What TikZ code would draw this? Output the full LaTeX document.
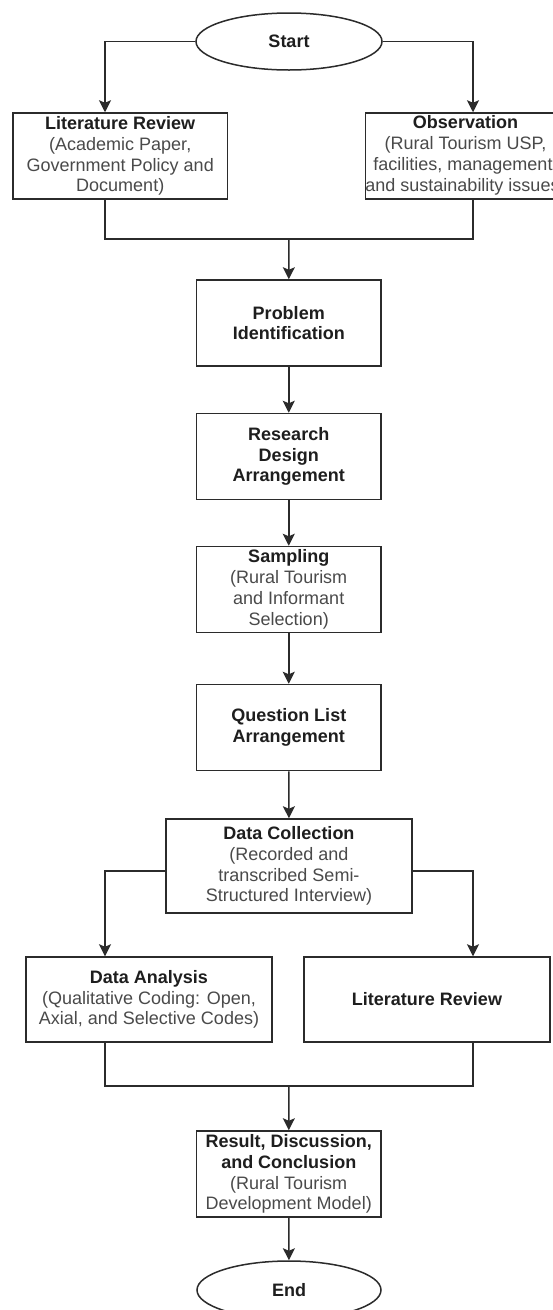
\documentclass[tikz,border=0pt]{standalone}
\usepackage{fontspec}
\setmainfont{Liberation Sans}
\usetikzlibrary{arrows.meta,shapes.geometric,calc}
\definecolor{linec}{HTML}{2B2B2B}
\definecolor{titlec}{HTML}{1E1E1E}
\definecolor{subc}{HTML}{4A4A4A}
\newcommand\hd[1]{{\color{titlec}\bfseries #1}}
\begin{document}
\begin{tikzpicture}[x=1pt,y=-1pt,
  box/.style={draw=linec, line width=1.5pt, rectangle, minimum height=86pt, inner sep=0pt,
    align=center, font=\fontsize{18}{20.8}\selectfont, text=subc},
  term/.style={draw=linec, line width=1.5pt, ellipse, minimum width=186pt, minimum height=57pt,
    inner sep=0pt, font=\fontsize{18}{20.8}\selectfont\bfseries, text=titlec},
  arr/.style={draw=linec, line width=1.5pt, -{Stealth[length=12pt,width=12pt,inset=2.5pt]}},
  conn/.style={draw=linec, line width=1.5pt}]
\fill[white] (0,0) rectangle (552,1310);
\useasboundingbox (0,0) rectangle (552,1310);

\node[term] (start) at (289,41.5) {Start};
\node[box, minimum width=214.5pt] (lr1) at (120.25,156)
  {\hd{Literature Review}\\(Academic Paper,\\Government Policy and\\Document)};
\node[box, minimum width=214.5pt, align=none] (obs) at (472.5,156)
  {\hspace*{-14pt}\begin{tabular}{@{}c@{}}\hd{Observation}\\(Rural Tourism USP,\\facilities, management,\\and sustainability issues)\end{tabular}};
\node[box, minimum width=184.5pt] (prob) at (288.75,323) {\hd{Problem}\\\hd{Identification}};
\node[box, minimum width=184.5pt] (rda) at (288.75,456.5) {\hd{Research}\\\hd{Design}\\\hd{Arrangement}};
\node[box, minimum width=184.5pt] (samp) at (288.75,589.5)
  {\hd{Sampling}\\(Rural Tourism\\and Informant\\Selection)};
\node[box, minimum width=184.5pt] (qla) at (288.75,727.5) {\hd{Question List}\\\hd{Arrangement}};
\node[box, minimum width=246pt, minimum height=94pt] (dc) at (289,866)
  {\hd{Data Collection}\\(Recorded and\\transcribed Semi-\\Structured Interview)};
\node[box, minimum width=246pt, minimum height=85pt] (da) at (149,999.5)
  {\hd{Data Analysis}\\(Qualitative Coding: Open,\\Axial, and Selective Codes)};
\node[box, minimum width=246pt, minimum height=85pt] (lr2) at (427,999.5) {\hd{Literature Review}};
\node[box, minimum width=184.5pt] (rdc) at (288.75,1174)
  {\hd{Result, Discussion,}\\\hd{and Conclusion}\\(Rural Tourism\\Development Model)};
\node[term, minimum width=184pt, minimum height=58pt] (end) at (289,1290) {End};

\coordinate (xl) at (105,0);
\coordinate (xr) at (473,0);
\coordinate (j1) at (289,239);
\coordinate (j2) at (289,1086);

\draw[arr] (start.west) -| (xl |- lr1.north);
\draw[arr] (start.east) -| (xr |- obs.north);
\draw[conn] (xl |- lr1.south) |- (j1) -| (xr |- obs.south);
\draw[arr] (j1) -- (prob.north);
\draw[arr] (prob) -- (rda);
\draw[arr] (rda) -- (samp);
\draw[arr] (samp) -- (qla);
\draw[arr] (qla) -- (dc);
\draw[arr] ([yshift=-5pt]dc.west) -| (xl |- da.north);
\draw[arr] ([yshift=-5pt]dc.east) -| (xr |- lr2.north);
\draw[conn] (xl |- da.south) |- (j2) -| (xr |- lr2.south);
\draw[arr] (j2) -- (rdc.north);
\draw[arr] (rdc) -- (end);
\end{tikzpicture}
\end{document}
